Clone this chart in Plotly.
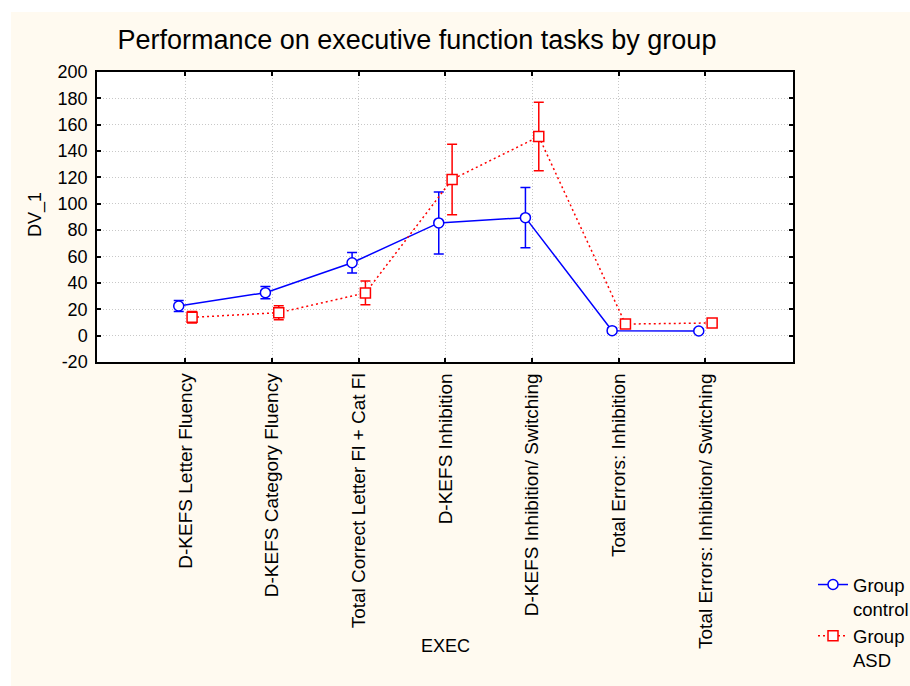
import numpy as np
import plotly.graph_objects as go

categories = [
    "D-KEFS Letter Fluency",
    "D-KEFS Category Fluency",
    "Total Correct Letter Fl + Cat Fl",
    "D-KEFS Inhibition",
    "D-KEFS Inhibition/ Switching",
    "Total Errors: Inhibition",
    "Total Errors: Inhibition/ Switching",
]
control_mean = [22.5, 32.6, 55.3, 85.5, 89.5, 3.8, 3.5]
control_err = [4.2, 4.7, 7.8, 23.5, 22.8, 2.0, 1.5]
asd_mean = [13.9, 17.4, 32.4, 118.5, 151.0, 8.8, 9.6]
asd_err = [4.4, 5.3, 9.0, 26.7, 26.0, 2.0, 1.5]
yticks = list(range(-20, 201, 20))
ytick_text = [str(v) for v in yticks]

idx = np.arange(1, len(categories) + 1)
off = 0.077
FONT = "Liberation Sans, Arial, Helvetica, sans-serif"
BG = "#fffaf0"

fig = go.Figure()
fig.add_trace(go.Scatter(
    x=idx - off, y=control_mean, mode="lines+markers",
    name="Group<br>control",
    line=dict(color="#0000ff", width=1.5),
    marker=dict(symbol="circle", size=10, color="white",
                line=dict(color="#0000ff", width=1.5)),
    error_y=dict(type="data", array=control_err, visible=True,
                 color="#0000ff", thickness=1.5, width=5),
))
fig.add_trace(go.Scatter(
    x=idx + off, y=asd_mean, mode="lines+markers",
    name="Group<br>ASD",
    line=dict(color="#ff0000", width=1.5, dash="2px,3px"),
    marker=dict(symbol="square", size=10, color="white",
                line=dict(color="#ff0000", width=1.5)),
    error_y=dict(type="data", array=asd_err, visible=True,
                 color="#ff0000", thickness=1.5, width=5),
))

W, H = 910, 686
# plot area in pixels
SL, ST, SR, SB = 97, 72, 793, 362
L, T, R, B = SL, ST, W - SR, H - SB
pw, ph = W - L - R, H - T - B
def px(s):
    return (s - L) / pw
def py(s):
    return (SB - s) / ph

shapes = [
    dict(type="rect", xref="paper", yref="paper", x0=px(-2), x1=px(W + 2),
         y0=py(12), y1=py(-2),
         fillcolor="white", line=dict(width=0), layer="below"),
    dict(type="rect", xref="paper", yref="paper", x0=px(-2), x1=px(11),
         y0=py(H + 2), y1=py(-2),
         fillcolor="white", line=dict(width=0), layer="below"),
]

annotations = [
    dict(text="EXEC", xref="paper", yref="paper", x=px(445), y=py(646),
         xanchor="center", yanchor="middle", showarrow=False,
         font=dict(size=18, family=FONT, color="black")),
    dict(text="DV_1", xref="paper", yref="paper", x=px(35), y=py(215),
         xanchor="center", yanchor="middle", showarrow=False, textangle=-90,
         font=dict(size=18, family=FONT, color="black")),
]

grid = dict(showgrid=True, gridcolor="#c8c8c8", griddash="1px,2px", gridwidth=1)

fig.update_layout(
    width=W, height=H,
    margin=dict(l=L, r=R, t=T, b=B, pad=0),
    paper_bgcolor=BG, plot_bgcolor="white",
    font=dict(family=FONT, color="black", size=18),
    title=dict(text="Performance on executive function tasks by group",
               font=dict(size=27, family=FONT, color="black"),
               x=417 / W, xref="container", xanchor="center",
               y=1 - 40 / H, yref="container", yanchor="middle"),
    shapes=shapes,
    annotations=annotations,
    showlegend=True,
    legend=dict(x=813 / W, y=1 - 566 / H, xref="container", yref="container",
                xanchor="left", yanchor="top",
                bgcolor="rgba(0,0,0,0)", font=dict(size=18.5, family=FONT),
                valign="top", itemwidth=30, tracegroupgap=0),
    xaxis=dict(range=[-0.02, 8.01], tickvals=list(idx), ticktext=categories,
               tickangle=-90, tickfont=dict(size=19), automargin=False,
               ticks="inside", ticklen=4, tickwidth=1.5, tickcolor="black",
               showline=True, linecolor="black", linewidth=1.5, mirror="ticks",
               zeroline=False, ticklabelstandoff=2, **grid),
    yaxis=dict(range=[-20, 200], tickvals=yticks, ticktext=ytick_text,
               tickfont=dict(size=18), automargin=False,
               ticks="inside", ticklen=4, tickwidth=1.5, tickcolor="black",
               showline=True, linecolor="black", linewidth=1.5, mirror="ticks",
               zeroline=False, ticklabelstandoff=4, **grid),
)

fig.write_html(
    "out.html",
    config={"displayModeBar": False},
    post_script="document.body.style.margin='0';document.body.style.overflow='hidden';",
)
